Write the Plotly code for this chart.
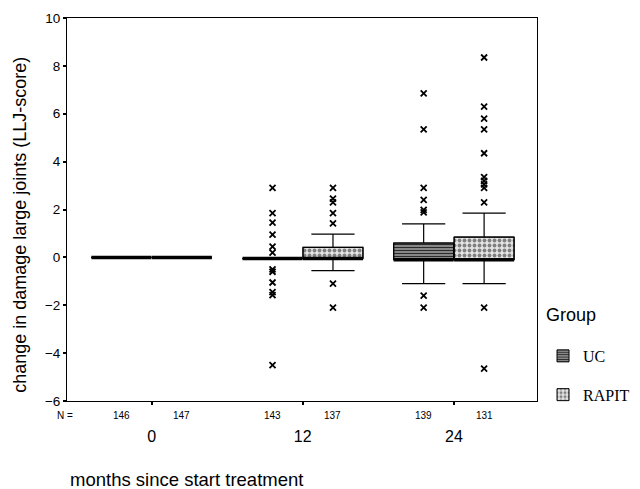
import plotly.graph_objects as go

# ---- data ----
months = ["0", "12", "24"]
n_uc = [146, 143, 139]
n_rapit = [147, 137, 131]

uc_q1 = [0.0, -0.05, -0.1]
uc_med = [0.0, -0.05, -0.1]
uc_q3 = [0.0, -0.05, 0.6]
uc_low = [0.0, -0.05, -1.1]
uc_high = [0.0, -0.05, 1.4]

rp_q1 = [0.0, -0.05, -0.1]
rp_med = [0.0, -0.05, -0.1]
rp_q3 = [0.0, 0.42, 0.85]
rp_low = [0.0, -0.55, -1.1]
rp_high = [0.0, 0.97, 1.85]

uc_out = [
    [],
    [2.9, 1.85, 1.45, 0.95, 0.45, 0.2, -0.5, -0.6, -1.05, -1.45, -1.58, -4.5],
    [6.85, 5.35, 2.9, 2.4, 1.98, 1.88, -1.6, -2.1],
]
rp_out = [
    [],
    [2.9, 2.45, 2.3, 1.85, 1.42, -1.1, -2.1],
    [8.35, 6.3, 5.8, 5.35, 4.35, 3.35, 3.2, 3.05, 2.9, 2.3, -2.1, -4.65],
]

# ---- styling/layout constants ----
OFF = 0.2
BW = 0.397
groups = [
    dict(name="UC", sign=-1, q1=uc_q1, med=uc_med, q3=uc_q3, lo=uc_low, hi=uc_high, out=uc_out,
         pattern=dict(shape="-", fgcolor="#2a2a2a", bgcolor="#9a9a9a", size=3, solidity=0.45, fillmode="replace")),
    dict(name="RAPIT", sign=1, q1=rp_q1, med=rp_med, q3=rp_q3, lo=rp_low, hi=rp_high, out=rp_out,
         pattern=dict(shape=".", fgcolor="#808080", bgcolor="#e4e4e4", size=5, solidity=0.45, fillmode="replace")),
]

fig = go.Figure()
cats = list(range(len(months)))

# patterned box fills (also provide legend)
for g in groups:
    xs = [c + g["sign"] * OFF for c in cats]
    fig.add_trace(go.Bar(
        x=xs, base=g["q1"], y=[b - a for a, b in zip(g["q1"], g["q3"])],
        width=BW, name=g["name"], legendgroup=g["name"],
        marker=dict(color=g["pattern"]["bgcolor"], pattern=g["pattern"],
                    line=dict(color="black", width=1)),
        showlegend=True,
    ))

# whiskers / box outlines
for g in groups:
    xs = [c + g["sign"] * OFF for c in cats]
    fig.add_trace(go.Box(
        x=xs, q1=g["q1"], median=g["med"], q3=g["q3"],
        lowerfence=g["lo"], upperfence=g["hi"],
        width=BW, whiskerwidth=0.72, fillcolor="rgba(0,0,0,0)",
        line=dict(color="black", width=1.2), boxpoints=False,
        showlegend=False, legendgroup=g["name"], hoverinfo="skip",
    ))

# thick median lines
for g in groups:
    mx, my = [], []
    for c in cats:
        x0 = c + g["sign"] * OFF
        mx += [x0 - BW / 2, x0 + BW / 2, None]
        my += [g["med"][c], g["med"][c], None]
    fig.add_trace(go.Scatter(x=mx, y=my, mode="lines",
                             line=dict(color="black", width=3.5),
                             showlegend=False, hoverinfo="skip"))

# outliers
for g in groups:
    ox, oy = [], []
    for c in cats:
        for v in g["out"][c]:
            ox.append(c + g["sign"] * OFF)
            oy.append(v)
    fig.add_trace(go.Scatter(x=ox, y=oy, mode="markers",
                             marker=dict(symbol="x-thin", size=6, color="black",
                                         line=dict(color="black", width=1.8)),
                             showlegend=False, hoverinfo="skip"))

# annotations
NY = -0.037
ann = [dict(text="N =", x=-0.004, y=NY, xref="paper", yref="paper",
            xanchor="center", yanchor="middle",
            showarrow=False, font=dict(family="Arial", size=10, color="black"))]
for g, ns in ((groups[0], n_uc), (groups[1], n_rapit)):
    for c in cats:
        ann.append(dict(text=str(ns[c]), x=c + g["sign"] * OFF, y=NY, xref="x", yref="paper",
                        xanchor="center", yanchor="middle",
                        showarrow=False, font=dict(family="Arial", size=10, color="black")))
ann.append(dict(text="change in damage large joints (LLJ-score)", textangle=-90,
                x=-0.1, y=0.46, xref="paper", yref="paper",
                xanchor="center", yanchor="middle", showarrow=False,
                font=dict(family="Arial", size=18, color="black")))
ann.append(dict(text="months since start treatment", x=0.002, y=-0.205,
                xref="paper", yref="paper", xanchor="left", yanchor="middle",
                showarrow=False, font=dict(family="Arial", size=18.5, color="black")))
ann.append(dict(text="Group", x=1.015, y=0.2245, xref="paper", yref="paper",
                xanchor="left", yanchor="middle", showarrow=False,
                font=dict(family="Arial", size=18, color="black")))

fig.update_layout(
    width=632, height=481,
    margin=dict(l=59, r=103, t=10, b=88, autoexpand=False),
    paper_bgcolor="white", plot_bgcolor="white",
    barmode="overlay", boxmode="overlay",
    annotations=ann,
    legend=dict(x=1.0128, xanchor="left", y=0.162, yanchor="top",
                font=dict(family="Liberation Serif", size=16, color="black"),
                itemwidth=30, tracegroupgap=15, bgcolor="rgba(0,0,0,0)"),
    font=dict(family="Arial", color="black"),
)
fig.update_xaxes(range=[-0.56, 2.55], tickvals=cats, ticktext=months,
                 ticks="outside", ticklen=3, tickwidth=2, tickcolor="black",
                 ticklabelstandoff=18, automargin=False,
                 tickfont=dict(family="Arial", size=16, color="black"),
                 showline=True, linecolor="black", linewidth=1, mirror=True,
                 showgrid=False, zeroline=False)
fig.update_yaxes(range=[-6, 10], dtick=2, tick0=0, automargin=False,
                 ticks="outside", ticklen=3, tickwidth=2, tickcolor="black",
                 tickfont=dict(family="Arial", size=13.5, color="black"),
                 showline=True, linecolor="black", linewidth=1, mirror=True,
                 showgrid=False, zeroline=False)

fig.write_html("out.html")
